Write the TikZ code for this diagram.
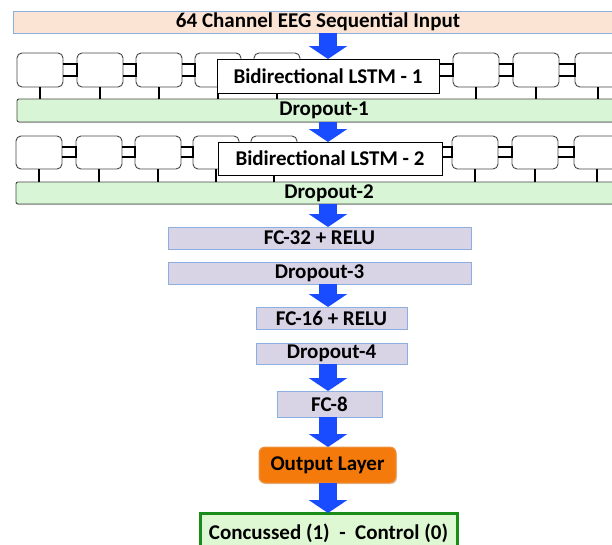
\documentclass[tikz,border=0pt]{standalone}
\usepackage{fontspec}
\setmainfont{Carlito}
\usetikzlibrary{arrows.meta,shadows}
\definecolor{peach}{RGB}{251,228,212}
\definecolor{lblue}{RGB}{140,175,225}
\definecolor{mint}{RGB}{216,245,214}
\definecolor{dgray}{RGB}{70,70,70}
\definecolor{lav}{RGB}{217,211,230}
\definecolor{arrblue}{RGB}{25,75,255}
\definecolor{orng}{RGB}{245,122,12}
\definecolor{orngb}{RGB}{235,150,70}
\definecolor{resfill}{RGB}{222,248,212}
\definecolor{resb}{RGB}{25,140,25}
\begin{document}
\begin{tikzpicture}[x=1pt,y=-1pt,
  font=\bfseries\fontsize{21}{25}\selectfont,
  box/.style={anchor=north west, inner sep=0pt, outer sep=0pt},
  inbar/.style={box, draw=lblue, line width=0.8pt, fill=peach},
  dropbar/.style={box, draw=dgray, line width=0.9pt, fill=mint, rounded corners=2pt,
     drop shadow={shadow xshift=1pt, shadow yshift=-1.2pt, opacity=0.35}},
  cell/.style={box, draw=dgray, line width=0.9pt, fill=white, rounded corners=5pt,
     minimum width=46pt, minimum height=34pt},
  lstmbox/.style={box, draw=black, line width=1pt, fill=white},
  link/.style={draw=black, line width=1.6pt},
  lavbar/.style={box, draw=lblue, line width=0.8pt, fill=lav,
     drop shadow={shadow xshift=1pt, shadow yshift=-1.2pt, opacity=0.25}},
  outbox/.style={box, draw=orngb, line width=1pt, fill=orng, rounded corners=6pt,
     drop shadow={shadow xshift=1pt, shadow yshift=-1.2pt, opacity=0.3}},
  resbox/.style={box, draw=resb, line width=3pt, fill=resfill},
  bigarrow/.style={draw=arrblue, line width=18pt, -{Triangle[length=13pt,width=38pt]}}
]
\useasboundingbox (0,0) rectangle (612,544);
\clip (0,0) rectangle (612,544);
\coordinate (ax) at (328,0);

% input
\node[inbar, minimum width=610pt, minimum height=22pt] (in) at (13,11) {64 Channel EEG Sequential Input};

% LSTM row 1
\foreach \x [count=\i] in {17,77,136,195,254,453,513,575}
  \node[cell] (a\i) at (\x,53) {};
\node[dropbar, minimum width=614pt, minimum height=23pt] (d1) at (17,99) {Dropout-1};
\foreach \i in {1,...,8}
  \draw[link] (a\i.south) -- (a\i.south |- d1.north);
\foreach \p/\q in {1/2,2/3,3/4,4/5,6/7,7/8} {
  \draw[link] ([yshift=-11pt]a\p.north east) -- ([yshift=-11pt]a\q.north west);
  \draw[link] ([yshift=-23pt]a\p.north east) -- ([yshift=-23pt]a\q.north west);
  \draw[link] ([yshift=-10pt]a\q.north west) -- ([yshift=-24pt]a\q.north west);
}
\node[lstmbox, minimum width=222pt, minimum height=34pt] (b1) at (217,59) {Bidirectional LSTM - 1};
\coordinate (p1) at ([yshift=-11pt]a6.north west);
\coordinate (p2) at ([yshift=-23pt]a6.north west);
\draw[link] (p1 -| b1.east) -- (p1);
\draw[link] (p2 -| b1.east) -- (p2);
\draw[link] ([yshift=-10pt]a6.north west) -- ([yshift=-24pt]a6.north west);

% LSTM row 2
\foreach \x [count=\i] in {16,76,135,193,251,452,512,574}
  \node[cell, minimum height=33pt] (c\i) at (\x,136) {};
\node[dropbar, minimum width=626pt, minimum height=22pt] (d2) at (16,182) {Dropout-2};
\foreach \i in {1,...,8}
  \draw[link] (c\i.south) -- (c\i.south |- d2.north);
\foreach \p/\q in {1/2,2/3,3/4,4/5,6/7,7/8} {
  \draw[link] ([yshift=-11pt]c\p.north east) -- ([yshift=-11pt]c\q.north west);
  \draw[link] ([yshift=-21pt]c\p.north east) -- ([yshift=-21pt]c\q.north west);
  \draw[link] ([yshift=-10pt]c\q.north west) -- ([yshift=-22pt]c\q.north west);
}
\node[lstmbox, minimum width=224pt, minimum height=33pt] (b2) at (218,142) {Bidirectional LSTM - 2};
\coordinate (q1) at ([yshift=-11pt]c6.north west);
\coordinate (q2) at ([yshift=-21pt]c6.north west);
\draw[link] (q1 -| b2.east) -- (q1);
\draw[link] (q2 -| b2.east) -- (q2);
\draw[link] ([yshift=-10pt]c6.north west) -- ([yshift=-22pt]c6.north west);

% dense part
\node[lavbar, minimum width=303pt, minimum height=22pt] (f32) at (168,227) {FC-32 + RELU};
\node[lavbar, minimum width=303pt, minimum height=22pt] (d3) at (168,262) {Dropout-3};
\node[lavbar, minimum width=151pt, minimum height=22pt] (f16) at (256,307) {FC-16 + RELU};
\node[lavbar, minimum width=151pt, minimum height=21pt] (d4) at (256,343) {Dropout-4};
\node[lavbar, minimum width=105pt, minimum height=26pt] (f8) at (277,391) {FC-8};
\node[outbox, minimum width=137pt, minimum height=36pt] (out) at (259,447) {Output Layer};
\node[resbox, minimum width=257pt, minimum height=40pt] (res) at (200,513) {Concussed (1)\ \ -\ \ Control (0)};

% arrows
\draw[bigarrow] (in.south -| ax) -- (b1.north -| ax);
\draw[bigarrow] (d1.south -| ax) -- (b2.north -| ax);
\draw[bigarrow] (d2.south -| ax) -- (f32.north -| ax);
\draw[bigarrow] (d3.south -| ax) -- (f16.north -| ax);
\draw[bigarrow] (d4.south -| ax) -- (f8.north -| ax);
\draw[bigarrow] (f8.south -| ax) -- (out.north -| ax);
\draw[bigarrow] (out.south -| ax) -- (res.north -| ax);
\end{tikzpicture}
\end{document}
